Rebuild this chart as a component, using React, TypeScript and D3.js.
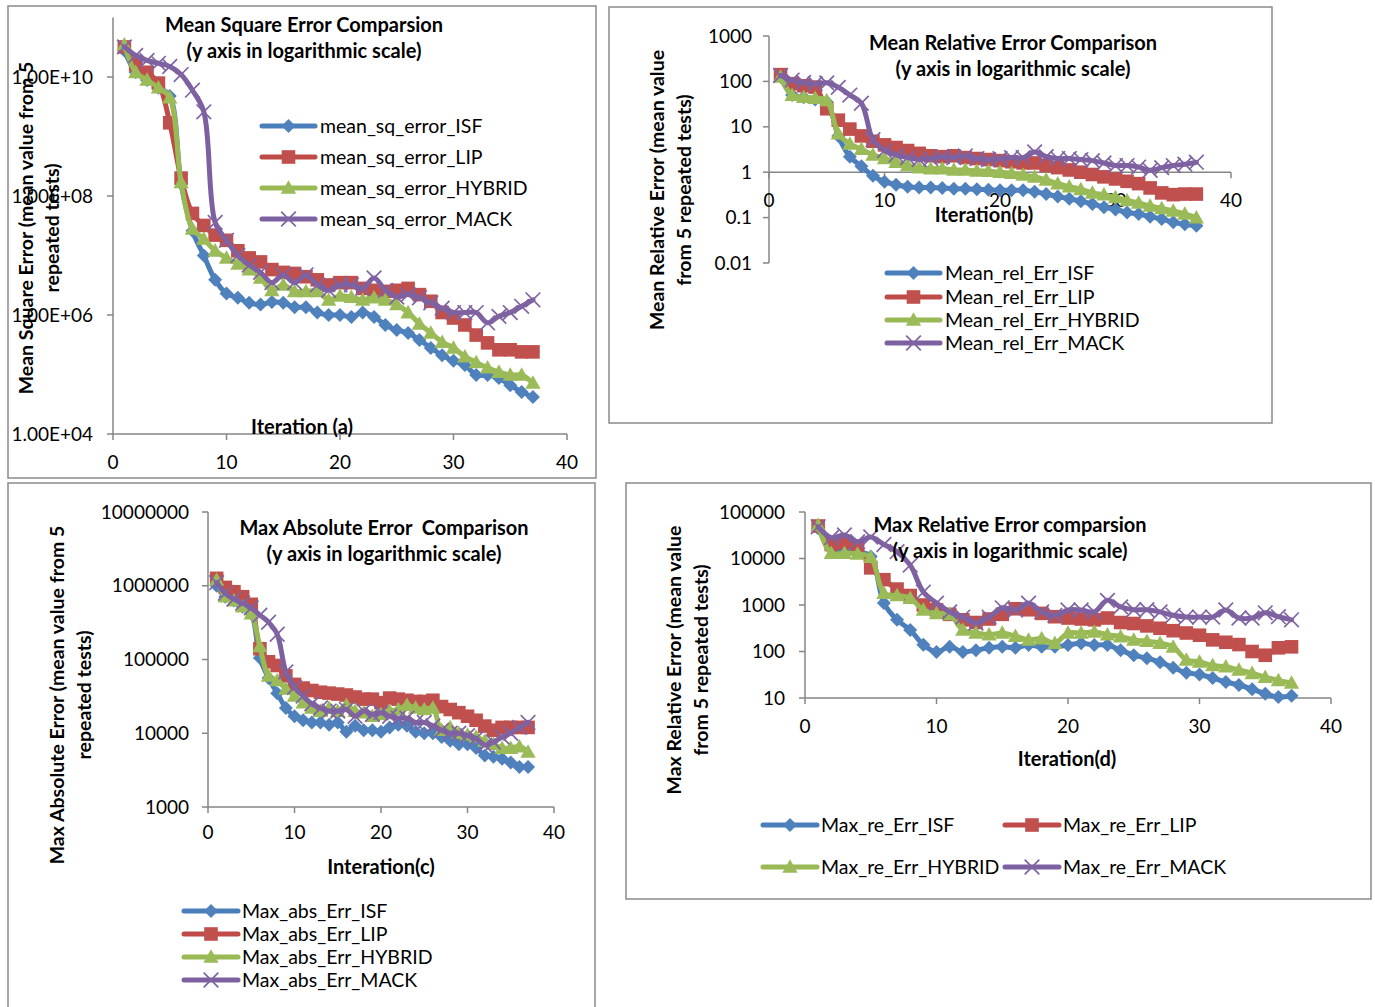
import React from "react";
import * as d3 from "d3";

// Iteration index shared by every series (1..37)
const iterations = d3.range(1, 38);

const methodNames = ["ISF", "LIP", "HYBRID", "MACK"];
const lineColors = ["#4A7EBB", "#BE4B48", "#98B954", "#7D60A0"];
const markColors = ["#4F81BD", "#C0504D", "#9BBB59", "#8064A2"];
type Shape = "diamond" | "square" | "triangle" | "x";
const markShapes: Shape[] = ["diamond", "square", "triangle", "x"];

// (a) mean square error
const mseISF = [2.8e10, 1.2e10, 8.9e9, 6.6e9, 4.8e9, 1.6e8, 2.6e7, 1.0e7, 3.9e6, 2.3e6, 1.95e6, 1.6e6, 1.5e6, 1.65e6, 1.6e6, 1.35e6, 1.35e6, 1.1e6, 1.0e6, 1.0e6, 9.3e5, 1.1e6, 9.3e5, 6.8e5, 5.6e5, 5.0e5, 3.8e5, 2.8e5, 2.1e5, 1.7e5, 1.45e5, 9.8e4, 9.8e4, 8.7e4, 6.6e4, 5.1e4, 4.2e4];
const mseLIP = [3.2e10, 1.6e10, 1.2e10, 7.9e9, 1.7e9, 2.0e8, 5.1e7, 3.2e7, 2.2e7, 1.8e7, 1.2e7, 9.1e6, 7.8e6, 5.8e6, 5.2e6, 5.0e6, 4.4e6, 3.9e6, 3.2e6, 3.5e6, 3.5e6, 2.8e6, 2.6e6, 2.5e6, 2.6e6, 2.8e6, 2.2e6, 1.7e6, 1.1e6, 8.9e5, 6.8e5, 4.6e5, 3.4e5, 2.6e5, 2.6e5, 2.4e5, 2.4e5];
const mseHYBRID = [3.5e10, 1.2e10, 8.9e9, 6.6e9, 4.5e9, 1.7e8, 2.8e7, 1.9e7, 1.2e7, 9.1e6, 7.2e6, 5.8e6, 4.2e6, 2.6e6, 3.2e6, 2.5e6, 2.5e6, 2.5e6, 1.8e6, 2.1e6, 2.0e6, 1.8e6, 1.95e6, 1.8e6, 1.5e6, 1.1e6, 7.1e5, 5.0e5, 3.5e5, 2.8e5, 2.0e5, 1.6e5, 1.3e5, 1.1e5, 9.8e4, 9.8e4, 7.2e4];
const mseMACK = [3.2e10, 2.3e10, 1.9e10, 1.7e10, 1.5e10, 1.1e10, 6.0e9, 2.6e9, 3.6e7, 1.8e7, 1.0e7, 6.9e6, 5.2e6, 3.5e6, 4.7e6, 3.5e6, 4.7e6, 3.2e6, 2.6e6, 3.2e6, 3.2e6, 2.8e6, 4.2e6, 2.6e6, 2.0e6, 2.2e6, 1.95e6, 1.6e6, 1.3e6, 1.1e6, 1.1e6, 1.1e6, 7.4e5, 9.5e5, 1.1e6, 1.4e6, 1.8e6];

// (b) mean relative error
const mreISF = [126, 50, 45, 40, 35, 6.3, 2.2, 1.35, 0.83, 0.62, 0.53, 0.48, 0.46, 0.46, 0.45, 0.43, 0.43, 0.42, 0.41, 0.4, 0.4, 0.4, 0.37, 0.33, 0.29, 0.26, 0.23, 0.2, 0.17, 0.15, 0.13, 0.12, 0.105, 0.093, 0.079, 0.071, 0.066];
const mreLIP = [141, 89, 80, 75, 25, 14, 8.9, 6.3, 4.8, 4.0, 3.5, 3.0, 2.6, 2.3, 2.2, 2.3, 2.1, 2.0, 1.9, 1.8, 1.7, 1.6, 1.6, 1.4, 1.26, 1.12, 1.0, 0.89, 0.79, 0.71, 0.63, 0.56, 0.45, 0.35, 0.32, 0.33, 0.33];
const mreHYBRID = [126, 50, 45, 43, 38, 7.1, 4.2, 3.2, 2.4, 2.0, 1.66, 1.41, 1.26, 1.2, 1.2, 1.12, 1.12, 1.07, 1.05, 1.0, 0.95, 0.87, 0.79, 0.68, 0.56, 0.48, 0.42, 0.35, 0.32, 0.28, 0.24, 0.21, 0.18, 0.16, 0.14, 0.12, 0.1];
const mreMACK = [135, 107, 95, 89, 93, 74, 50, 33, 5.2, 3.0, 2.4, 2.1, 1.9, 2.0, 2.2, 2.1, 2.3, 2.0, 1.9, 2.0, 2.1, 2.1, 2.8, 2.2, 2.0, 2.0, 1.9, 1.8, 1.6, 1.4, 1.4, 1.3, 1.1, 1.26, 1.4, 1.5, 1.66];

// (c) max absolute error
const maeISF = [1.0e6, 7.1e5, 6.3e5, 5.2e5, 4.2e5, 1.05e5, 5.6e4, 3.5e4, 2.2e4, 1.7e4, 1.5e4, 1.4e4, 1.4e4, 1.3e4, 1.4e4, 1.05e4, 1.26e4, 1.1e4, 1.1e4, 1.05e4, 1.2e4, 1.3e4, 1.26e4, 1.05e4, 1.0e4, 1.0e4, 8.9e3, 7.9e3, 7.1e3, 7.1e3, 6.3e3, 5.0e3, 4.8e3, 4.5e3, 4.0e3, 3.5e3, 3.5e3];
const maeLIP = [1.26e6, 9.5e5, 8.3e5, 7.1e5, 5.6e5, 1.4e5, 9.3e4, 8.3e4, 6.0e4, 4.6e4, 4.1e4, 3.8e4, 3.6e4, 3.5e4, 3.4e4, 3.3e4, 3.1e4, 2.9e4, 2.9e4, 2.6e4, 3.0e4, 2.9e4, 2.8e4, 2.7e4, 2.7e4, 2.8e4, 2.3e4, 2.1e4, 1.9e4, 1.7e4, 1.5e4, 1.25e4, 1.1e4, 1.2e4, 1.2e4, 1.2e4, 1.2e4];
const maeHYBRID = [1.2e6, 7.1e5, 6.3e5, 5.2e5, 4.2e5, 1.5e5, 6.0e4, 5.2e4, 4.0e4, 3.2e4, 2.6e4, 2.2e4, 2.0e4, 2.2e4, 2.0e4, 2.4e4, 2.0e4, 1.9e4, 1.7e4, 1.8e4, 2.0e4, 2.1e4, 2.4e4, 2.2e4, 2.1e4, 2.2e4, 1.1e4, 1.2e4, 1.0e4, 9.5e3, 8.9e3, 7.9e3, 7.1e3, 6.3e3, 6.3e3, 6.6e3, 5.6e3];
const maeMACK = [1.1e6, 7.9e5, 6.6e5, 5.8e5, 5.0e5, 4.0e5, 3.2e5, 2.2e5, 6.8e4, 4.2e4, 3.2e4, 2.5e4, 2.2e4, 2.0e4, 2.0e4, 2.1e4, 1.7e4, 2.0e4, 1.8e4, 1.9e4, 1.7e4, 1.6e4, 1.6e4, 1.4e4, 1.4e4, 1.26e4, 1.1e4, 1.0e4, 1.0e4, 9.3e3, 8.5e3, 6.9e3, 7.6e3, 8.9e3, 1.0e4, 1.2e4, 1.4e4];

// (d) max relative error
const mxreISF = [4.5e4, 1.6e4, 1.4e4, 1.4e4, 1.1e4, 1100, 480, 290, 140, 98, 126, 98, 107, 120, 126, 120, 138, 126, 126, 138, 151, 138, 138, 107, 83, 72, 59, 45, 35, 32, 27, 22, 19, 15.5, 12.3, 10.5, 11.2];
const mxreLIP = [5.0e4, 2.0e4, 2.2e4, 1.8e4, 6300, 3500, 2200, 1600, 1000, 790, 630, 480, 420, 500, 630, 830, 790, 660, 560, 525, 500, 480, 525, 420, 400, 355, 316, 280, 250, 224, 178, 158, 141, 100, 83, 120, 126];
const mxreHYBRID = [5.2e4, 1.3e4, 1.3e4, 1.26e4, 1.07e4, 1800, 1600, 1400, 780, 660, 630, 290, 250, 230, 250, 214, 178, 190, 151, 250, 250, 263, 230, 209, 178, 166, 151, 126, 66, 60, 50, 47, 40, 34, 28, 24, 21];
const mxreMACK = [4.8e4, 2.8e4, 3.2e4, 2.3e4, 2.9e4, 2.0e4, 1.4e4, 7200, 1900, 1100, 710, 550, 410, 550, 870, 780, 1100, 710, 600, 780, 780, 710, 1260, 910, 790, 790, 710, 600, 550, 550, 550, 780, 525, 525, 680, 560, 480];

// Axis ticks
const xTickValues = [0, 10, 20, 30, 40];
const mseTicks = [1e4, 1e6, 1e8, 1e10];
const mseTickLabels = ["1.00E+04", "1.00E+06", "1.00E+08", "1.00E+10"];
const mreTicks = [0.01, 0.1, 1, 10, 100, 1000];
const mreTickLabels = ["0.01", "0.1", "1", "10", "100", "1000"];
const maeTicks = [1e3, 1e4, 1e5, 1e6, 1e7];
const maeTickLabels = ["1000", "10000", "100000", "1000000", "10000000"];
const mxreTicks = [10, 100, 1000, 10000, 100000];
const mxreTickLabels = ["10", "100", "1000", "10000", "100000"];

const FONT = "Lato, 'Open Sans', sans-serif";
const AXIS = "#868686";
const TICK_FS = 19;
const LEGEND_FS = 19.5;
const BOLD_FS = 20;
const YTITLE_FS = 19.5;

function markerD(shape: Shape, s: number): string {
  switch (shape) {
    case "diamond":
      return `M0,${-s}L${s},0L0,${s}L${-s},0Z`;
    case "square":
      return `M${-s},${-s}H${s}V${s}H${-s}Z`;
    case "triangle":
      return `M0,${-s * 1.05}L${s * 1.05},${s * 0.8}L${-s * 1.05},${s * 0.8}Z`;
    default:
      return `M${-s},${-s}L${s},${s}M${s},${-s}L${-s},${s}`;
  }
}

const markSize: Record<Shape, number> = { diamond: 7, square: 6.8, triangle: 7.3, x: 7.3 };

function Marker({ shape, i, x, y }: { shape: Shape; i: number; x: number; y: number }) {
  const d = markerD(shape, markSize[shape]);
  if (shape === "x") {
    return <path d={d} transform={`translate(${x},${y})`} fill="none" stroke={markColors[i]} strokeWidth={1.7} />;
  }
  return <path d={d} transform={`translate(${x},${y})`} fill={markColors[i]} />;
}

type LegendItem = { x0: number; x1: number; tx: number; y: number };

type PanelCfg = {
  frame: [number, number, number, number];
  xRange: [number, number];
  yDomain: [number, number];
  yRange: [number, number];
  xAxisAt: number;
  yTicks: number[];
  yTickLabels: string[];
  yLabelGap: number;
  xLabelY: number;
  title: string[];
  titleX: number;
  titleY: number[];
  axisTitle: string;
  axisTitlePos: [number, number];
  yTitle: string[];
  yTitleX: number[];
  yTitleCy: number;
  prefix: string;
  legend: LegendItem[];
  series: number[][];
};

function Panel({ cfg }: { cfg: PanelCfg }) {
  const x = d3.scaleLinear().domain([0, 40]).range(cfg.xRange);
  const y = d3.scaleLog().domain(cfg.yDomain).range(cfg.yRange);
  const x0 = cfg.xRange[0];
  const axisY = y(cfg.xAxisAt);
  const line = d3
    .line<number>()
    .x((_, k) => x(iterations[k]))
    .y((v) => y(v))
    .curve(d3.curveCatmullRom.alpha(0.5));
  const [fx, fy, fw, fh] = cfg.frame;
  return (
    <g fontFamily={FONT}>
      <rect x={fx} y={fy} width={fw} height={fh} fill="#fff" stroke="#8a8a8a" strokeWidth={1.5} />
      {/* y axis */}
      <line x1={x0} x2={x0} y1={cfg.yRange[0]} y2={cfg.yRange[1]} stroke={AXIS} strokeWidth={1.5} />
      {cfg.yTicks.map((t, k) => (
        <g key={t}>
          <line x1={x0 - 6} x2={x0} y1={y(t)} y2={y(t)} stroke={AXIS} strokeWidth={1.5} />
          <text x={x0 - cfg.yLabelGap} y={y(t)} dy="0.35em" textAnchor="end" fontSize={TICK_FS} fill="#000">
            {cfg.yTickLabels[k]}
          </text>
        </g>
      ))}
      {/* x axis */}
      <line x1={x0} x2={cfg.xRange[1]} y1={axisY} y2={axisY} stroke={AXIS} strokeWidth={1.5} />
      {xTickValues.map((t) => (
        <g key={t}>
          <line x1={x(t)} x2={x(t)} y1={axisY} y2={axisY + 6} stroke={AXIS} strokeWidth={1.5} />
          <text x={x(t)} y={cfg.xLabelY} textAnchor="middle" fontSize={TICK_FS} fill="#000">
            {t}
          </text>
        </g>
      ))}
      {/* series */}
      {cfg.series.map((vals, i) => (
        <g key={i}>
          <path d={line(vals) || ""} fill="none" stroke={lineColors[i]} strokeWidth={5} strokeLinejoin="round" strokeLinecap="round" />
          {vals.map((v, k) => (
            <Marker key={k} shape={markShapes[i]} i={i} x={x(iterations[k])} y={y(v)} />
          ))}
        </g>
      ))}
      {/* titles */}
      {cfg.title.map((t, k) => (
        <text key={k} x={cfg.titleX} y={cfg.titleY[k]} textAnchor="middle" fontSize={BOLD_FS} fontWeight="bold" fill="#000" style={{ whiteSpace: "pre" }}>
          {t}
        </text>
      ))}
      <text x={cfg.axisTitlePos[0]} y={cfg.axisTitlePos[1]} textAnchor="middle" fontSize={BOLD_FS} fontWeight="bold" fill="#000">
        {cfg.axisTitle}
      </text>
      {cfg.yTitle.map((t, k) => (
        <text
          key={k}
          transform={`translate(${cfg.yTitleX[k]},${cfg.yTitleCy}) rotate(-90)`}
          dy="0.35em"
          textAnchor="middle"
          fontSize={YTITLE_FS}
          fontWeight="bold"
          fill="#000"
        >
          {t}
        </text>
      ))}
      {/* legend */}
      {cfg.legend.map((it, i) => (
        <g key={i}>
          <line x1={it.x0} x2={it.x1} y1={it.y} y2={it.y} stroke={lineColors[i]} strokeWidth={5} strokeLinecap="round" />
          <Marker shape={markShapes[i]} i={i} x={(it.x0 + it.x1) / 2} y={it.y} />
          <text x={it.tx} y={it.y} dy="0.35em" fontSize={LEGEND_FS} fill="#000">
            {cfg.prefix + methodNames[i]}
          </text>
        </g>
      ))}
    </g>
  );
}

const stackLegend = (x0: number, x1: number, tx: number, ys: number[]): LegendItem[] =>
  ys.map((y) => ({ x0, x1, tx, y }));

const panels: PanelCfg[] = [
  {
    frame: [8, 6, 588, 472],
    xRange: [113, 567],
    yDomain: [1e4, 1e11],
    yRange: [434, 17.5],
    xAxisAt: 1e4,
    yTicks: mseTicks,
    yTickLabels: mseTickLabels,
    yLabelGap: 20,
    xLabelY: 469,
    title: ["Mean Square Error Comparsion", "(y axis in logarithmic scale)"],
    titleX: 304,
    titleY: [32, 58],
    axisTitle: "Iteration (a)",
    axisTitlePos: [302, 434],
    yTitle: ["Mean Square Error (mean value from 5", "repeated tests)"],
    yTitleX: [26, 52],
    yTitleCy: 228,
    prefix: "mean_sq_error_",
    legend: stackLegend(262, 315, 320, [126, 157, 188, 219]),
    series: [mseISF, mseLIP, mseHYBRID, mseMACK],
  },
  {
    frame: [609, 7, 663, 416],
    xRange: [769, 1231],
    yDomain: [0.01, 1000],
    yRange: [263, 36],
    xAxisAt: 1,
    yTicks: mreTicks,
    yTickLabels: mreTickLabels,
    yLabelGap: 17,
    xLabelY: 207,
    title: ["Mean Relative Error Comparison", "(y axis in logarithmic scale)"],
    titleX: 1013,
    titleY: [50, 76],
    axisTitle: "Iteration(b)",
    axisTitlePos: [984, 222],
    yTitle: ["Mean Relative Error (mean value", "from 5 repeated tests)"],
    yTitleX: [657, 684],
    yTitleCy: 190,
    prefix: "Mean_rel_Err_",
    legend: stackLegend(887, 940, 945, [273, 297, 320, 343]),
    series: [mreISF, mreLIP, mreHYBRID, mreMACK],
  },
  {
    frame: [8, 483, 587, 540],
    xRange: [208, 554],
    yDomain: [1e3, 1e7],
    yRange: [807, 512],
    xAxisAt: 1e3,
    yTicks: maeTicks,
    yTickLabels: maeTickLabels,
    yLabelGap: 19,
    xLabelY: 839,
    title: ["Max Absolute Error  Comparison", "(y axis in logarithmic scale)"],
    titleX: 384,
    titleY: [535, 561],
    axisTitle: "Interation(c)",
    axisTitlePos: [381, 874],
    yTitle: ["Max Absolute Error (mean value from 5", "repeated tests)"],
    yTitleX: [57, 84],
    yTitleCy: 695,
    prefix: "Max_abs_Err_",
    legend: stackLegend(184, 238, 242, [911, 934, 957, 980]),
    series: [maeISF, maeLIP, maeHYBRID, maeMACK],
  },
  {
    frame: [626, 483, 745, 416],
    xRange: [805, 1331],
    yDomain: [10, 1e5],
    yRange: [698, 512],
    xAxisAt: 10,
    yTicks: mxreTicks,
    yTickLabels: mxreTickLabels,
    yLabelGap: 20,
    xLabelY: 733,
    title: ["Max Relative Error comparsion", "(y axis in logarithmic scale)"],
    titleX: 1010,
    titleY: [532, 558],
    axisTitle: "Iteration(d)",
    axisTitlePos: [1067, 766],
    yTitle: ["Max Relative Error (mean value", "from 5 repeated tests)"],
    yTitleX: [674, 701],
    yTitleCy: 660,
    prefix: "Max_re_Err_",
    legend: [
      { x0: 763, x1: 817, tx: 821, y: 825 },
      { x0: 1005, x1: 1059, tx: 1063, y: 825 },
      { x0: 763, x1: 817, tx: 821, y: 867 },
      { x0: 1005, x1: 1059, tx: 1063, y: 867 },
    ],
    series: [mxreISF, mxreLIP, mxreHYBRID, mxreMACK],
  },
];

export default function App() {
  return (
    <svg
      width={1375}
      height={1007}
      viewBox="0 0 1375 1007"
      style={{ position: "absolute", left: 0, top: 0, background: "#fff" }}
    >
      <rect width={1375} height={1007} fill="#fff" />
      {panels.map((p, k) => (
        <Panel key={k} cfg={p} />
      ))}
    </svg>
  );
}
